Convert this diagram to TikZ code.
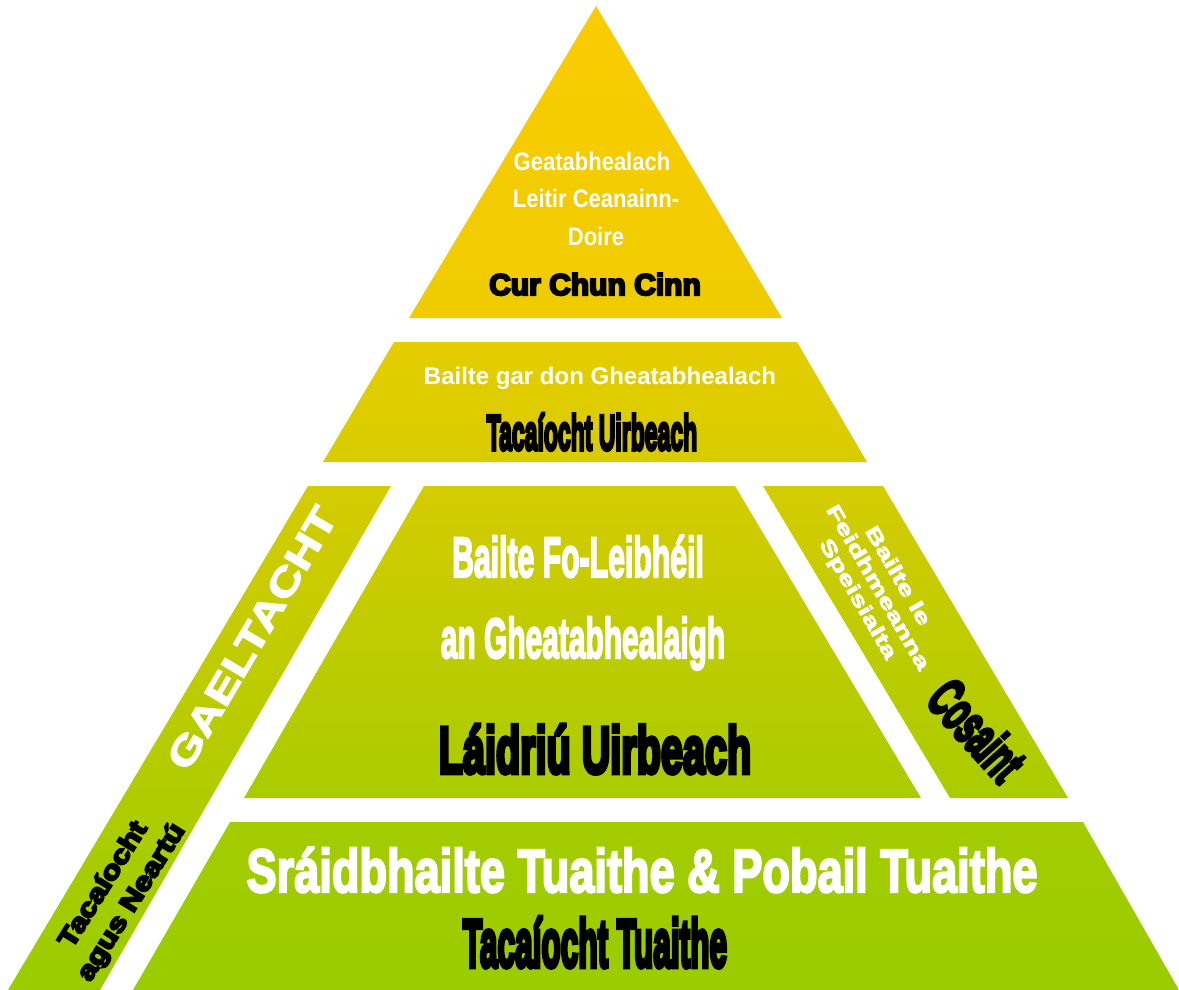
\documentclass[tikz,border=0pt]{standalone}
\usepackage{fontspec}
\setmainfont{Liberation Sans}
\newfontfamily\fbold{Liberation Sans Bold}
\newfontfamily\fboldw{Liberation Sans Bold}[FakeBold=3]
\newfontfamily\fboldx{Liberation Sans Bold}[FakeBold=4]
\newfontfamily\fheavy{Liberation Sans Bold}[FakeBold=7]
\definecolor{aTop}{HTML}{FACC00}
\definecolor{aBot}{HTML}{EECC00}
\definecolor{bTop}{HTML}{E4CD00}
\definecolor{bBot}{HTML}{D8CC00}
\definecolor{cTop}{HTML}{D4CC00}
\definecolor{cBot}{HTML}{A9CC00}
\definecolor{dBot}{HTML}{99CC00}
\definecolor{eTop}{HTML}{A4CC00}
\tikzset{
  wtxt/.style={text=white, inner sep=0pt},
  ktxt/.style={text=black, inner sep=0pt},
}
\begin{document}
\begin{tikzpicture}[x=1pt,y=-1pt]
\useasboundingbox (0,0) rectangle (1179,990);
% shapes
\shade[top color=aTop, bottom color=aBot] (596,6) -- (782,318) -- (409,318) -- cycle;
\shade[top color=bTop, bottom color=bBot] (394,342) -- (797,342) -- (867,462) -- (323,462) -- cycle;
\shade[top color=cTop, bottom color=cBot] (424,486) -- (735,486) -- (921,798) -- (244,798) -- cycle;
\shade[top color=cTop, bottom color=dBot] (308,486) -- (391,486) -- (100,990) -- (8,990) -- cycle;
\shade[top color=cTop, bottom color=cBot] (763,486) -- (883,486) -- (1068,798) -- (950,798) -- cycle;
\shade[top color=eTop, bottom color=dBot] (230,822) -- (1083,822) -- (1179,990) -- (133,990) -- cycle;
% top triangle
\node[wtxt, anchor=base, yscale=1.15, font={\fbold\fontsize{22}{26}\selectfont}] (g1) at (592,170) {Geatabhealach};
\node[wtxt, anchor=base, yscale=1.15, font={\fbold\fontsize{22}{26}\selectfont}] (g2) at (596,207.5) {Leitir Ceanainn-};
\node[wtxt, anchor=base, yscale=1.15, font={\fbold\fontsize{22}{26}\selectfont}] (g3) at (596,245) {Doire};
\node[ktxt, anchor=base, font={\fheavy\fontsize{30}{34}\selectfont}] (ccc) at (595,295) {Cur Chun Cinn};
% second tier
\node[wtxt, anchor=base, font={\fbold\fontsize{24}{28}\selectfont}] (bg) at (600,384) {Bailte gar don Gheatabhealach};
\node[ktxt, anchor=base, xscale=0.46, font={\fheavy\fontsize{50}{56}\selectfont}] (tu) at (592,450) {Tacaíocht Uirbeach};
% middle
\node[wtxt, anchor=base, xscale=0.53, font={\fboldx\fontsize{57}{62}\selectfont}] (bf) at (578,577) {Bailte Fo-Leibhéil};
\node[wtxt, anchor=base, xscale=0.525, font={\fboldx\fontsize{57}{62}\selectfont}] (ag) at (583,658) {an Gheatabhealaigh};
\node[ktxt, anchor=base, xscale=0.6, font={\fheavy\fontsize{66}{70}\selectfont}] (lu) at (595,773) {Láidriú Uirbeach};
% bottom
\node[wtxt, anchor=base, xscale=0.74, font={\fboldx\fontsize{61}{66}\selectfont}] (sr) at (642,892) {Sráidbhailte Tuaithe \& Pobail Tuaithe};
\node[ktxt, anchor=base, xscale=0.465, font={\fheavy\fontsize{68}{72}\selectfont}] (tt) at (595,967) {Tacaíocht Tuaithe};
% left band
\node[wtxt, rotate=59.5, xscale=1.3, font={\fboldw\fontsize{38}{42}\selectfont}] (ga) at (252,638) {GAELTACHT};
\node[ktxt, rotate=58, xscale=1.2, align=center, font={\fheavy\fontsize{26}{33}\selectfont}] (tn) at (118,894) {Tacaíocht\\agus Neartú};
% right band
\node[wtxt, rotate=-60, xscale=1.45, align=center, font={\fboldw\fontsize{20}{23}\selectfont}] (bl) at (877,588) {Bailte le\\Feidhmeanna\\Speisialta};
\node[ktxt, rotate=-48, xscale=0.55, font={\fheavy\fontsize{56}{60}\selectfont}] (co) at (977,730) {Cosaint};
\end{tikzpicture}
\end{document}
